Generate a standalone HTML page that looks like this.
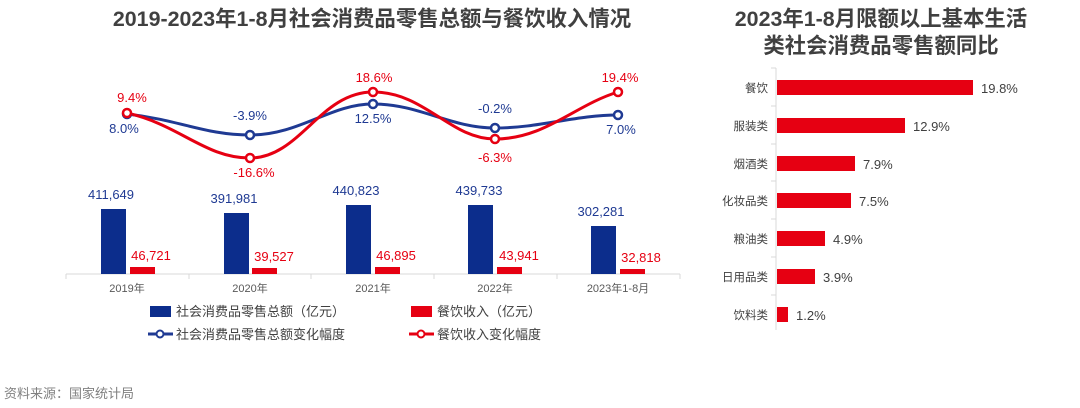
<!DOCTYPE html>
<html><head><meta charset="utf-8"><style>
body{margin:0;background:#fff;}
svg text{font-family:"Liberation Sans","Noto Sans CJK SC",sans-serif;}
</style></head><body>
<svg width="1080" height="403" viewBox="0 0 1080 403" xmlns="http://www.w3.org/2000/svg">
<rect width="1080" height="403" fill="#fff"/>
<text x="372" y="26" font-size="21.4" font-weight="bold" fill="#404040" text-anchor="middle">2019-2023年1-8月社会消费品零售总额与餐饮收入情况</text>
<text x="881" y="26" font-size="21.4" font-weight="bold" fill="#404040" text-anchor="middle">2023年1-8月限额以上基本生活</text>
<text x="881" y="53" font-size="21.4" font-weight="bold" fill="#404040" text-anchor="middle">类社会消费品零售额同比</text>

<line x1="66" y1="274" x2="680" y2="274" stroke="#d9d9d9" stroke-width="1"/>
<g stroke="#d9d9d9"><line x1="66" y1="274" x2="66" y2="279"/><line x1="189" y1="274" x2="189" y2="279"/><line x1="311" y1="274" x2="311" y2="279"/><line x1="434" y1="274" x2="434" y2="279"/><line x1="557" y1="274" x2="557" y2="279"/><line x1="680" y1="274" x2="680" y2="279"/></g>
<g fill="#0c2d8c">
<rect x="101" y="209" width="25" height="65"/>
<rect x="224" y="213" width="25" height="61"/>
<rect x="346" y="205" width="25" height="69"/>
<rect x="468" y="205" width="25" height="69"/>
<rect x="591" y="226" width="25" height="48"/>
</g>
<g fill="#e60012">
<rect x="130" y="267" width="25" height="7"/>
<rect x="252" y="268" width="25" height="6"/>
<rect x="375" y="267" width="25" height="7"/>
<rect x="497" y="267" width="25" height="7"/>
<rect x="620" y="269" width="25" height="5"/>
</g>
<g font-size="13" fill="#1f3a93" text-anchor="middle">
<text x="111" y="199">411,649</text><text x="234" y="203">391,981</text><text x="356" y="195">440,823</text><text x="479" y="195">439,733</text><text x="601" y="216">302,281</text>
</g>
<g font-size="13" fill="#e60012" text-anchor="middle">
<text x="151" y="260">46,721</text><text x="274" y="261">39,527</text><text x="396" y="260">46,895</text><text x="519" y="260">43,941</text><text x="641" y="262">32,818</text>
</g>
<g font-size="11" fill="#595959" text-anchor="middle">
<text x="127" y="292">2019年</text><text x="250" y="292">2020年</text><text x="373" y="292">2021年</text><text x="495" y="292">2022年</text><text x="618" y="292">2023年1-8月</text>
</g>
<path d="M127,114 C180,120 205,135 250,135 C300,135 330,104 373,104 C420,104 450,128 495,128 C540,128 575,115 618,115" fill="none" stroke="#1f3a93" stroke-width="3"/>
<path d="M127,113 C180,125 205,158 250,158 C300,158 320,92 373,92 C425,92 450,139 495,139 C545,139 575,105 618,92" fill="none" stroke="#e60012" stroke-width="3"/>
<g fill="#fff" stroke="#1f3a93" stroke-width="2.5">
<circle cx="127" cy="114" r="4"/><circle cx="250" cy="135" r="4"/><circle cx="373" cy="104" r="4"/><circle cx="495" cy="128" r="4"/><circle cx="618" cy="115" r="4"/>
</g>
<g fill="#fff" stroke="#e60012" stroke-width="2.5">
<circle cx="127" cy="113" r="4"/><circle cx="250" cy="158" r="4"/><circle cx="373" cy="92" r="4"/><circle cx="495" cy="139" r="4"/><circle cx="618" cy="92" r="4"/>
</g>
<g font-size="13" fill="#1f3a93" text-anchor="middle">
<text x="124" y="133">8.0%</text><text x="250" y="120">-3.9%</text><text x="373" y="123">12.5%</text><text x="495" y="113">-0.2%</text><text x="621" y="134">7.0%</text>
</g>
<g font-size="13" fill="#e60012" text-anchor="middle">
<text x="132" y="102">9.4%</text><text x="254" y="177">-16.6%</text><text x="374" y="82">18.6%</text><text x="495" y="162">-6.3%</text><text x="620" y="82">19.4%</text>
</g>
<rect x="150" y="306" width="21" height="11" fill="#0c2d8c"/>
<text x="176" y="316" font-size="13" fill="#404040">社会消费品零售总额（亿元）</text>
<rect x="411" y="306" width="21" height="11" fill="#e60012"/>
<text x="437" y="316" font-size="13" fill="#404040">餐饮收入（亿元）</text>
<line x1="148" y1="334" x2="173" y2="334" stroke="#1f3a93" stroke-width="3"/><circle cx="160" cy="334" r="3.5" fill="#fff" stroke="#1f3a93" stroke-width="2"/>
<text x="176" y="339" font-size="13" fill="#404040">社会消费品零售总额变化幅度</text>
<line x1="409" y1="334" x2="434" y2="334" stroke="#e60012" stroke-width="3"/><circle cx="421" cy="334" r="3.5" fill="#fff" stroke="#e60012" stroke-width="2"/>
<text x="437" y="339" font-size="13" fill="#404040">餐饮收入变化幅度</text>
<text x="4" y="398" font-size="13" fill="#808080">资料来源：国家统计局</text>

<line x1="776" y1="68" x2="776" y2="330" stroke="#d9d9d9"/>
<g stroke="#d9d9d9"><line x1="771" y1="68" x2="776" y2="68"/><line x1="771" y1="106" x2="776" y2="106"/><line x1="771" y1="144" x2="776" y2="144"/><line x1="771" y1="181" x2="776" y2="181"/><line x1="771" y1="219" x2="776" y2="219"/><line x1="771" y1="257" x2="776" y2="257"/><line x1="771" y1="295" x2="776" y2="295"/></g>
<g fill="#e60012">
<rect x="777" y="80" width="196" height="15"/>
<rect x="777" y="118" width="128" height="15"/>
<rect x="777" y="156" width="78" height="15"/>
<rect x="777" y="193" width="74" height="15"/>
<rect x="777" y="231" width="48" height="15"/>
<rect x="777" y="269" width="38" height="15"/>
<rect x="777" y="307" width="11" height="15"/>
</g>
<g font-size="11.5" fill="#404040" text-anchor="end">
<text x="768" y="92">餐饮</text><text x="768" y="130">服装类</text><text x="768" y="168">烟酒类</text><text x="768" y="205">化妆品类</text><text x="768" y="243">粮油类</text><text x="768" y="281">日用品类</text><text x="768" y="319">饮料类</text>
</g>
<g font-size="13" fill="#404040">
<text x="981" y="93">19.8%</text><text x="913" y="131">12.9%</text><text x="863" y="169">7.9%</text><text x="859" y="206">7.5%</text><text x="833" y="244">4.9%</text><text x="823" y="282">3.9%</text><text x="796" y="320">1.2%</text>
</g>
</svg>
</body></html>
